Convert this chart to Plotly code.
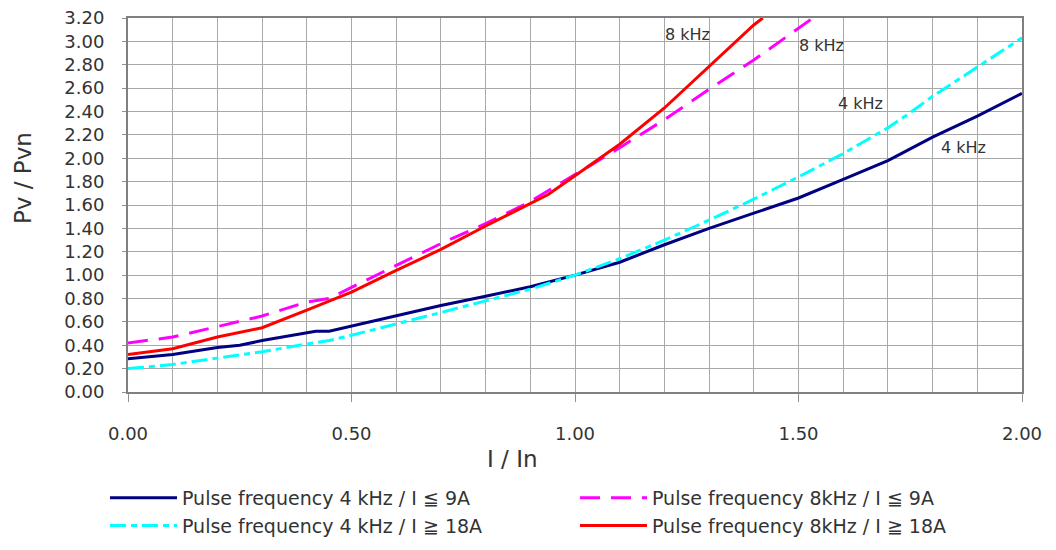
import plotly.graph_objects as go

# ---- data ----
x_4k_low = [0, 0.1, 0.2, 0.25, 0.3, 0.4, 0.42, 0.45, 0.5, 0.6, 0.7, 0.8, 0.9, 1.0,
            1.1, 1.2, 1.3, 1.4, 1.5, 1.6, 1.7, 1.75, 1.8, 1.9, 2.0]
y_4k_low = [0.285, 0.32, 0.38, 0.40, 0.44, 0.505, 0.52, 0.52, 0.565, 0.65, 0.74, 0.82, 0.90, 1.0,
            1.11, 1.26, 1.40, 1.53, 1.66, 1.82, 1.98, 2.08, 2.18, 2.36, 2.555]

x_4k_high = [0, 0.1, 0.2, 0.3, 0.4, 0.45, 0.5, 0.6, 0.7, 0.8, 0.9, 1.0,
             1.1, 1.2, 1.3, 1.4, 1.5, 1.6, 1.7, 1.75, 1.8, 1.9, 2.0]
y_4k_high = [0.20, 0.235, 0.29, 0.345, 0.41, 0.44, 0.485, 0.58, 0.68, 0.78, 0.88, 1.0,
             1.14, 1.30, 1.47, 1.65, 1.84, 2.04, 2.26, 2.39, 2.53, 2.78, 3.03]

x_8k_low = [0, 0.1, 0.2, 0.3, 0.4, 0.45, 0.5, 0.6, 0.7, 0.8, 0.9, 1.0,
            1.1, 1.2, 1.3, 1.4, 1.5, 1.532]
y_8k_low = [0.42, 0.47, 0.56, 0.65, 0.77, 0.80, 0.895, 1.08, 1.27, 1.44, 1.63, 1.86,
            2.09, 2.33, 2.59, 2.84, 3.11, 3.2]

x_8k_high = [0, 0.1, 0.2, 0.3, 0.4, 0.5, 0.6, 0.7, 0.8, 0.9, 0.94, 1.0,
             1.1, 1.2, 1.3, 1.4, 1.42]
y_8k_high = [0.32, 0.37, 0.47, 0.55, 0.70, 0.855, 1.04, 1.22, 1.42, 1.61, 1.69, 1.85,
             2.12, 2.43, 2.785, 3.14, 3.2]

names = ["Pulse frequency 4 kHz / I \u2266 9A",
         "Pulse frequency 8kHz / I \u2266 9A",
         "Pulse frequency 4 kHz / I \u2267 18A",
         "Pulse frequency 8kHz / I \u2267 18A"]

curve_labels = ["8 kHz", "8 kHz", "4 kHz", "4 kHz"]
label_x = [1.251, 1.552, 1.638, 1.869]
label_y = [3.058, 2.962, 2.467, 2.089]

x_ticks = [0, 0.5, 1.0, 1.5, 2.0]
x_tick_text = ["0.00", "0.50", "1.00", "1.50", "2.00"]
y_ticks = [round(0.2 * i, 1) for i in range(17)]
y_tick_text = ["%.2f" % v for v in y_ticks]

FONT = "DejaVu Sans"
TXT = "#333333"

# page body has an 8px margin: plot area target is x 128..1022, y 18..392 on screen
PW, PH = 894, 374

fig = go.Figure()
fig.add_trace(go.Scatter(x=x_4k_low, y=y_4k_low, mode="lines", name=names[0],
                         line=dict(color="#000080", width=3)))
fig.add_trace(go.Scatter(x=x_8k_low, y=y_8k_low, mode="lines", name=names[1],
                         line=dict(color="#ff00ff", width=3, dash="20px,11px")))
fig.add_trace(go.Scatter(x=x_4k_high, y=y_4k_high, mode="lines", name=names[2],
                         line=dict(color="#00ffff", width=3, dash="16px,5px,6px,5px")))
fig.add_trace(go.Scatter(x=x_8k_high, y=y_8k_high, mode="lines", name=names[3],
                         line=dict(color="#ff0000", width=3)))

for t, lx, ly in zip(curve_labels, label_x, label_y):
    fig.add_annotation(x=lx, y=ly, text=t, showarrow=False, xref="x", yref="y",
                       font=dict(family=FONT, size=16, color=TXT))

# axis titles
fig.add_annotation(xref="paper", yref="paper", x=(512 - 128) / PW, y=-(459 - 392) / PH,
                   xanchor="center", yanchor="middle",
                   text="I / In", showarrow=False, font=dict(family=FONT, size=23, color=TXT))
fig.add_annotation(xref="paper", yref="paper", x=-(128 - 23) / PW, y=(392 - 178) / PH,
                   xanchor="center", yanchor="middle",
                   text="Pv / Pvn", textangle=-90, showarrow=False,
                   font=dict(family=FONT, size=23, color=TXT))

fig.update_layout(
    width=1056, height=550,
    margin=dict(l=120, r=42, t=10, b=166, autoexpand=False),
    paper_bgcolor="white", plot_bgcolor="white",
    font=dict(family=FONT, color=TXT),
    showlegend=True,
    legend=dict(orientation="h", x=-(128 - 105) / PW, xanchor="left",
                y=-87 / PH, yanchor="top",
                entrywidth=388, entrywidthmode="pixels", itemwidth=67,
                font=dict(family=FONT, size=19, color=TXT),
                bgcolor="rgba(0,0,0,0)"),
    xaxis=dict(range=[0, 2], tickvals=x_ticks, ticktext=x_tick_text,
               ticks="outside", ticklen=8, tickcolor="#909090", tickwidth=1,
               ticklabelstandoff=16, ticklabeloverflow="allow",
               tickfont=dict(family=FONT, size=18, color=TXT),
               showgrid=True, gridcolor="#a8a8a8", gridwidth=1,
               minor=dict(dtick=0.1, showgrid=True, gridcolor="#a8a8a8", gridwidth=1),
               showline=True, linecolor="#808080", linewidth=2, mirror=True,
               zeroline=False, fixedrange=True),
    yaxis=dict(range=[0, 3.2], tickvals=y_ticks, ticktext=y_tick_text,
               ticks="outside", ticklen=4, tickcolor="#909090", tickwidth=1,
               ticklabelstandoff=14, ticklabeloverflow="allow",
               tickfont=dict(family=FONT, size=18, color=TXT),
               showgrid=True, gridcolor="#a8a8a8", gridwidth=1,
               showline=True, linecolor="#808080", linewidth=2, mirror=True,
               zeroline=False, fixedrange=True),
)

fig.write_html("out.html")
